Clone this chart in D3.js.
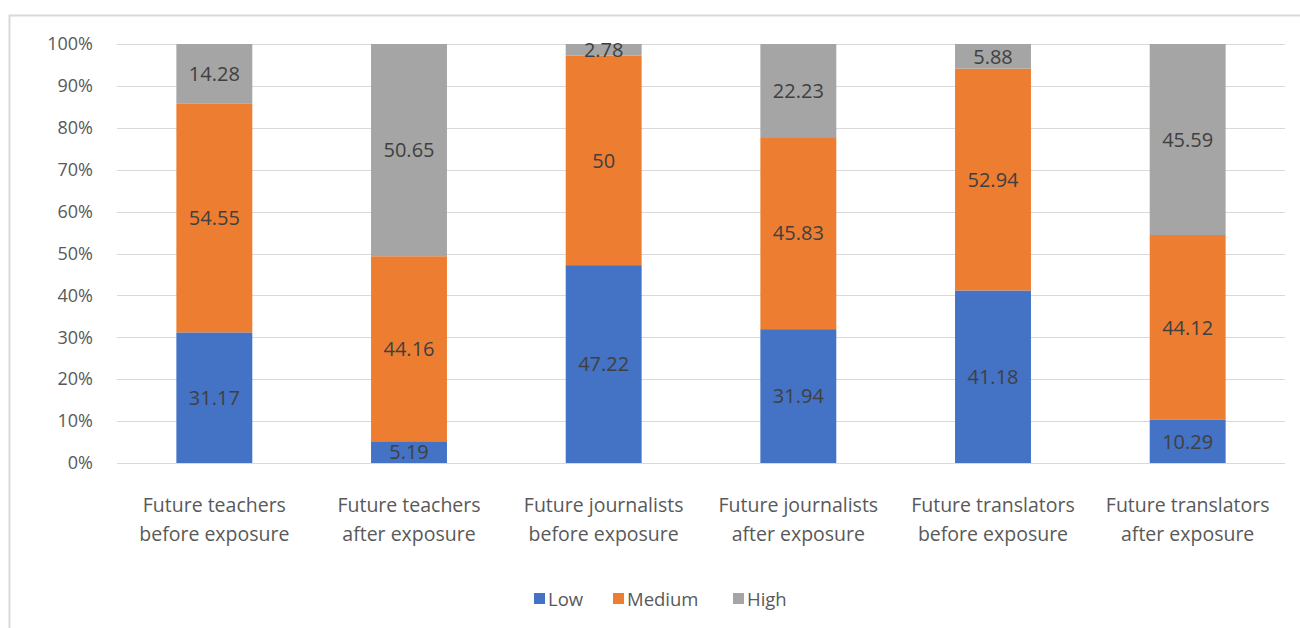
<!DOCTYPE html>
<html>
<head>
<meta charset="utf-8">
<script src="https://cdn.jsdelivr.net/npm/d3@7"></script>
<style>
  body { margin: 0; background: #fff; }
  svg { display: block; font-family: "Open Sans", "DejaVu Sans", sans-serif; }
  svg text { font-family: "Open Sans", "DejaVu Sans", sans-serif; }
</style>
</head>
<body>
<div id="chart"></div>
<script>
const categories = [
  ["Future teachers", "before exposure"],
  ["Future teachers", "after exposure"],
  ["Future journalists", "before exposure"],
  ["Future journalists", "after exposure"],
  ["Future translators", "before exposure"],
  ["Future translators", "after exposure"]
];
const seriesNames = ["Low", "Medium", "High"];
const lowValues = [31.17, 5.19, 47.22, 31.94, 41.18, 10.29];
const mediumValues = [54.55, 44.16, 50, 45.83, 52.94, 44.12];
const highValues = [14.28, 50.65, 2.78, 22.23, 5.88, 45.59];
const yTicks = [0, 10, 20, 30, 40, 50, 60, 70, 80, 90, 100];

const colors = ["#4472C4", "#ED7D31", "#A5A5A5"];

const width = 1300;
const height = 628;
const margin = { top: 44, right: 15, bottom: 165, left: 117 };

const rows = categories.map((c, i) => ({
  key: i, Low: lowValues[i], Medium: mediumValues[i], High: highValues[i]
}));
const stacked = d3.stack().keys(seriesNames)(rows);

const svg = d3.select("#chart")
  .append("svg")
  .attr("width", width)
  .attr("height", height);

// chart frame
svg.append("path")
  .attr("d", `M9.5,${height} V15.5 H${width}`)
  .attr("fill", "none")
  .attr("stroke", "#d9d9d9")
  .attr("stroke-width", 2);

const x = d3.scaleBand()
  .domain(d3.range(categories.length))
  .range([margin.left, width - margin.right])
  .paddingInner(0.61)
  .paddingOuter(0.305);

const y = d3.scaleLinear()
  .domain([0, 100])
  .range([height - margin.bottom, margin.top]);

// gridlines
svg.append("g")
  .selectAll("line")
  .data(yTicks)
  .enter()
  .append("line")
  .attr("x1", margin.left)
  .attr("x2", width - margin.right)
  .attr("y1", d => Math.round(y(d)) + 0.5)
  .attr("y2", d => Math.round(y(d)) + 0.5)
  .attr("stroke", "#d9d9d9")
  .attr("stroke-width", 1);

const yAxis = d3.axisLeft(y)
  .tickValues(yTicks)
  .tickFormat(d => d + "%")
  .tickSize(0)
  .tickPadding(0);

svg.append("g")
  .attr("transform", `translate(${margin.left - 24}, 0)`)
  .call(yAxis)
  .attr("font-family", null)
  .attr("font-size", null)
  .call(g => g.select(".domain").remove())
  .selectAll("text")
  .attr("fill", "#595959")
  .style("font-size", "18px");

const layers = svg.append("g")
  .selectAll("g")
  .data(stacked)
  .enter()
  .append("g")
  .attr("fill", (d, i) => colors[i]);

layers.selectAll("rect")
  .data(d => d)
  .enter()
  .append("rect")
  .attr("x", (d, i) => x(i))
  .attr("width", x.bandwidth())
  .attr("y", d => y(d[1]))
  .attr("height", d => y(d[0]) - y(d[1]));

layers.selectAll("text")
  .data((d, si) => d.map((p, i) => ({ p, i, v: [lowValues, mediumValues, highValues][si][i] })))
  .enter()
  .append("text")
  .attr("x", d => x(d.i) + x.bandwidth() / 2)
  .attr("y", d => y((d.p[0] + d.p[1]) / 2))
  .attr("dy", "0.36em")
  .attr("text-anchor", "middle")
  .attr("fill", "#404040")
  .style("font-size", "20px")
  .text(d => d.v);

// category labels
const xLabels = svg.append("g")
  .selectAll("text")
  .data(categories)
  .enter()
  .append("text")
  .attr("x", (d, i) => x(i) + x.bandwidth() / 2)
  .attr("y", 512)
  .attr("text-anchor", "middle")
  .attr("fill", "#595959")
  .style("font-size", "19.5px");

xLabels.selectAll("tspan")
  .data(d => d)
  .enter()
  .append("tspan")
  .attr("x", function () { return d3.select(this.parentNode).attr("x"); })
  .attr("dy", (d, i) => i === 0 ? 0 : 29)
  .text(d => d);

// legend
const legendX = [534, 613, 733];

const legend = svg.append("g")
  .selectAll("g")
  .data(seriesNames)
  .enter()
  .append("g")
  .attr("transform", (d, i) => `translate(${legendX[i]}, 599)`);

legend.append("rect")
  .attr("x", 0)
  .attr("y", -6)
  .attr("width", 11)
  .attr("height", 11)
  .attr("fill", (d, i) => colors[i]);

legend.append("text")
  .attr("x", 14)
  .attr("dy", "0.36em")
  .attr("fill", "#595959")
  .style("font-size", "18.5px")
  .text(d => d);
</script>
</body>
</html>
